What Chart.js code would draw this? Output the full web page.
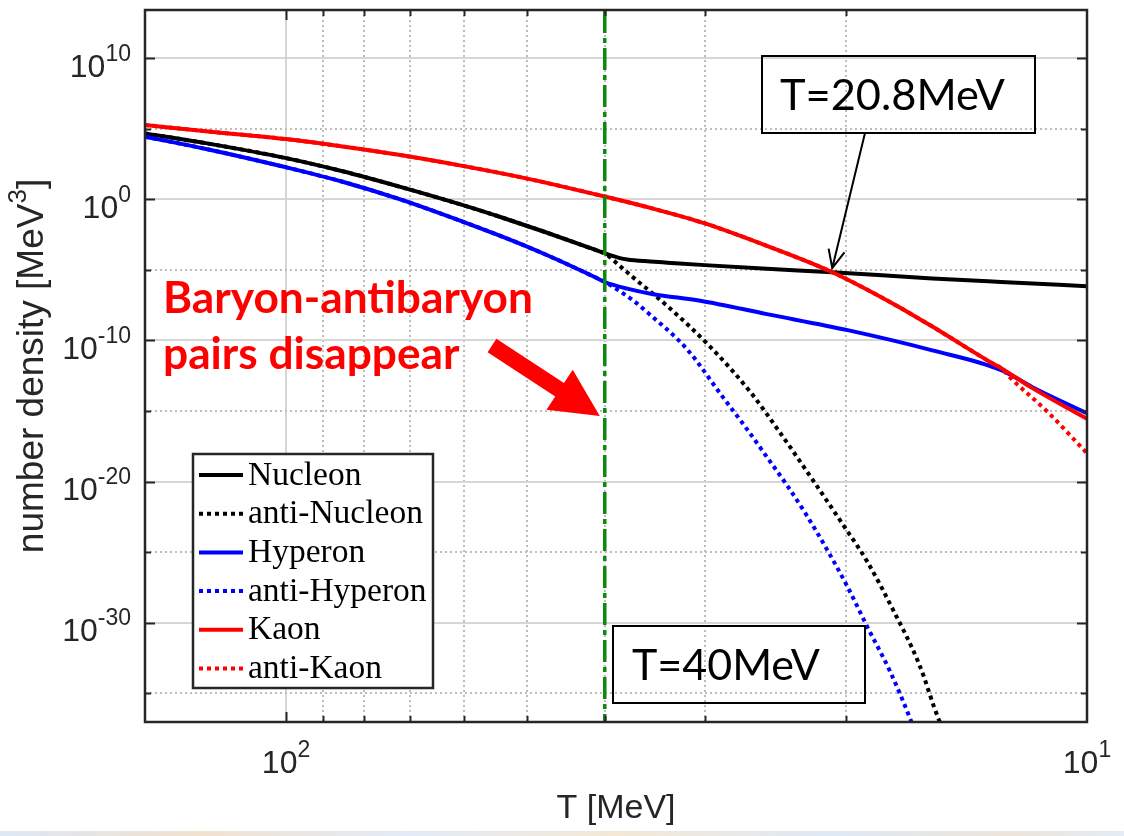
<!DOCTYPE html>
<html>
<head>
<meta charset="utf-8">
<script src="https://cdn.jsdelivr.net/npm/chart.js@4.4.1/dist/chart.umd.min.js"></script>
<style>
  html, body { margin: 0; padding: 0; background: #ffffff; }
  #wrap { position: relative; width: 1124px; height: 836px; overflow: hidden; background: #ffffff; }
  #strip { position: absolute; left: 0; right: 0; bottom: 0; height: 5px;
    background: linear-gradient(90deg, #dde7f4, #f2e2cf 18%, #e2ebf7 36%, #f4e8d5 55%, #dfe9f6 74%, #ece4d8 90%, #e4ecf6); }
  canvas { display: block; }
</style>
</head>
<body>
<div id="wrap">
  <canvas id="c" width="1124" height="836"></canvas>
  <div id="strip"></div>
</div>
<script>
// Number densities [MeV^3] against temperature T [MeV]
const nucleonT     = [150, 125, 100, 85, 72, 60, 54, 47.5, 41, 40, 38.3, 37.5, 35.1, 33.4, 30, 25.1, 20.8, 15.6, 12.8, 10];
const nucleon      = [4.8e4, 9.1e3, 8.5e2, 1.0e2, 7.8, 3.8e-1, 5.7e-2, 4.9e-3, 2.5e-4, 1.5e-4, 6.9e-5, 5.5e-5, 4.0e-5, 3.3e-5, 2.2e-5, 1.2e-5, 6.9e-6, 2.5e-6, 1.4e-6, 7.1e-7];

const antiNucleonT = [150, 125, 100, 85, 72, 60, 54, 47.5, 41, 40, 38.3, 36.9, 33.4, 29.6, 26.3, 24.2, 22.0, 20.2, 18.8, 17.5, 16.2, 15.3, 14.4];
const antiNucleon  = [4.8e4, 9.1e3, 8.5e2, 1.0e2, 7.8, 3.8e-1, 5.7e-2, 4.9e-3, 2.5e-4, 1.5e-4, 1.9e-5, 3.1e-6, 2.7e-8, 4.0e-11, 2.1e-14, 3.2e-17, 1.3e-20, 1.0e-23, 2.0e-26, 1.0e-29, 1.1e-33, 1.2e-37, 1.6e-40];

const hyperonT     = [150, 125, 100, 85, 72, 60, 54, 47.5, 41, 40, 37.5, 34.8, 30.4, 25.1, 19.9, 15.6, 12.8, 11.7, 10];
const hyperon      = [2.8e4, 3.5e3, 1.9e2, 18, 1.0, 2.5e-2, 2.6e-3, 1.3e-4, 2.8e-6, 1.4e-6, 4.7e-7, 1.9e-7, 6.6e-8, 7.4e-9, 5.4e-10, 2.0e-11, 7.9e-13, 4.9e-14, 6.9e-16];

const antiHyperonT = [150, 125, 100, 85, 72, 60, 54, 47.5, 41, 40, 36.9, 35.4, 31.6, 28.5, 26.7, 25.1, 23.7, 22.4, 21.1, 19.9, 18.8, 17.6, 16.6, 15.9];
const antiHyperon  = [2.8e4, 3.5e3, 1.9e2, 18, 1.0, 2.5e-2, 2.6e-3, 1.3e-4, 2.8e-6, 1.4e-6, 7.2e-8, 1.0e-8, 2.5e-11, 1.0e-14, 7.4e-17, 5.5e-19, 5.6e-21, 4.2e-23, 1.4e-25, 3.3e-28, 4.8e-31, 3.1e-34, 1.2e-37, 1.6e-40];

const kaonT        = [150, 125, 100, 85, 72, 60, 50, 40, 35, 30, 25.1, 20.8, 17.6, 15.6, 13.2, 12.8, 11.7, 10];
const kaon         = [1.9e5, 6.6e4, 1.9e4, 5.7e3, 1.4e3, 2.3e2, 30, 1.6, 2.4e-1, 2.0e-2, 5.1e-4, 6.9e-6, 5.2e-8, 9.7e-10, 2.9e-12, 1.1e-12, 4.2e-14, 2.8e-16];

const antiKaonT    = [150, 125, 100, 85, 72, 60, 50, 40, 35, 30, 25.1, 20.8, 17.6, 15.6, 13.2, 12.8, 12.5, 11.2, 10];
const antiKaon     = [1.9e5, 6.6e4, 1.9e4, 5.7e3, 1.4e3, 2.3e2, 30, 1.6, 2.4e-1, 2.0e-2, 5.1e-4, 6.9e-6, 5.2e-8, 9.7e-10, 2.9e-12, 1.1e-12, 2.6e-13, 8.7e-16, 1.0e-18];

// Marked temperatures [MeV]
const markerT = 40;     // pair disappearance line
const crossT  = 20.8;   // nucleon / kaon crossing
const crossN  = 6.9e-6; // density at the crossing

// Axis ranges and ticks
const xMin = 10, xMax = 150;
const yMin = 8.9e-38, yMax = 2.7e13;
const xGridT = [20, 30, 40, 50, 60, 70, 80, 90, 100];
const xLabelValues = [100, 10];
const xLabelExps = ['2', '1'];
const yTickValues = [1e-35, 1e-30, 1e-25, 1e-20, 1e-15, 1e-10, 1e-5, 1, 1e5, 1e10];
const yLabelValues = [1e10, 1, 1e-10, 1e-20, 1e-30];
const yLabelExps = ['10', '0', '-10', '-20', '-30'];

const INK = '#262626';
const SANS = '"Liberation Sans", Arial, sans-serif';
const SERIF = '"Liberation Serif", "Times New Roman", serif';
const CALI = 'Lato, "Open Sans", sans-serif';
const GREEN = '#0b8a0b';

function pts(ts, vs) { return ts.map((t, i) => ({ x: t, y: vs[i] })); }
function isMajorX(v) { return v === 100; }
function isMajorY(v) { return Math.round(Math.log10(v)) % 10 === 0; }

const datasets = [
  { label: 'Nucleon',      data: pts(nucleonT, nucleon),         borderColor: '#000000', borderDash: [],     order: 6 },
  { label: 'anti-Nucleon', data: pts(antiNucleonT, antiNucleon), borderColor: '#000000', borderDash: [4, 4], order: 5 },
  { label: 'Hyperon',      data: pts(hyperonT, hyperon),         borderColor: '#0000ff', borderDash: [],     order: 4 },
  { label: 'anti-Hyperon', data: pts(antiHyperonT, antiHyperon), borderColor: '#0000ff', borderDash: [4, 4], order: 3 },
  { label: 'Kaon',         data: pts(kaonT, kaon),               borderColor: '#ff0000', borderDash: [],     order: 2 },
  { label: 'anti-Kaon',    data: pts(antiKaonT, antiKaon),       borderColor: '#ff0000', borderDash: [4, 4], order: 1 }
].map(d => Object.assign(d, { borderWidth: 4, fill: false, cubicInterpolationMode: 'monotone', inLegend: true }));

datasets.push({
  label: 'T=' + markerT + 'MeV',
  data: [{ x: markerT, y: yMin / 10 }, { x: markerT, y: yMax * 10 }],
  borderColor: GREEN, borderWidth: 3.5, borderDash: [22, 5, 5, 5], tension: 0, fill: false, order: 0, inLegend: false
});

function drawPow(ctx, exp, x, baseY, align) {
  ctx.font = '32px ' + SANS;
  const wb = ctx.measureText('10').width;
  ctx.font = '23px ' + SANS;
  const ws = ctx.measureText(exp).width;
  const total = wb + ws;
  const left = align === 'right' ? x - total : x - total / 2;
  ctx.textAlign = 'left';
  ctx.textBaseline = 'alphabetic';
  ctx.fillStyle = INK;
  ctx.font = '32px ' + SANS;
  ctx.fillText('10', left, baseY);
  ctx.font = '23px ' + SANS;
  ctx.fillText(exp, left + wb, baseY - 16);
}

function fitSize(ctx, text, weight, family, target) {
  ctx.font = weight + ' 40px ' + family;
  return 40 * target / ctx.measureText(text).width;
}

const decorations = {
  id: 'decorations',
  afterDatasetsDraw(chart) {
    const { ctx, chartArea: a, scales: { x, y } } = chart;
    ctx.save();

    // inward tick marks on all four sides
    ctx.strokeStyle = INK;
    ctx.lineWidth = 2;
    ctx.beginPath();
    yTickValues.forEach(v => {
      const py = Math.round(y.getPixelForValue(v)) + 0.5;
      const len = isMajorY(v) ? 10 : 6;
      ctx.moveTo(a.left, py); ctx.lineTo(a.left + len, py);
      ctx.moveTo(a.right, py); ctx.lineTo(a.right - len, py);
    });
    xGridT.forEach(v => {
      const px = Math.round(x.getPixelForValue(v)) + 0.5;
      const len = isMajorX(v) ? 10 : 6;
      ctx.moveTo(px, a.bottom); ctx.lineTo(px, a.bottom - len);
      ctx.moveTo(px, a.top); ctx.lineTo(px, a.top + len);
    });
    ctx.stroke();

    // axes box
    ctx.lineWidth = 2.5;
    ctx.strokeRect(a.left, a.top, a.right - a.left, a.bottom - a.top);

    // tick labels
    yLabelValues.forEach((v, i) => drawPow(ctx, yLabelExps[i], 131, y.getPixelForValue(v) + 18.5, 'right'));
    xLabelValues.forEach((v, i) => drawPow(ctx, xLabelExps[i], x.getPixelForValue(v), 773, 'center'));

    // axis titles
    ctx.fillStyle = INK;
    ctx.font = '34px ' + SANS;
    ctx.textAlign = 'center';
    ctx.textBaseline = 'alphabetic';
    ctx.fillText('T [MeV]', (a.left + a.right) / 2, 818);

    ctx.save();
    ctx.translate(43, (a.top + a.bottom) / 2);
    ctx.rotate(-Math.PI / 2);
    const p1 = 'number density [MeV', p2 = '3', p3 = ']';
    ctx.font = '37px ' + SANS;
    const w1 = ctx.measureText(p1).width, w3 = ctx.measureText(p3).width;
    ctx.font = '26px ' + SANS;
    const w2 = ctx.measureText(p2).width;
    const sx = -(w1 + w2 + w3) / 2;
    ctx.textAlign = 'left';
    ctx.font = '37px ' + SANS;
    ctx.fillText(p1, sx, 0);
    ctx.font = '26px ' + SANS;
    ctx.fillText(p2, sx + w1, -17);
    ctx.font = '37px ' + SANS;
    ctx.fillText(p3, sx + w1 + w2, 0);
    ctx.restore();

    // legend
    const lg = { l: 193, t: 454, r: 433, b: 688 };
    ctx.fillStyle = '#ffffff';
    ctx.fillRect(lg.l, lg.t, lg.r - lg.l, lg.b - lg.t);
    ctx.strokeStyle = INK;
    ctx.lineWidth = 2.5;
    ctx.strokeRect(lg.l, lg.t, lg.r - lg.l, lg.b - lg.t);
    const entries = chart.data.datasets.filter(d => d.inLegend);
    entries.forEach((d, i) => {
      const ly = 475 + i * 38.7;
      ctx.save();
      ctx.strokeStyle = d.borderColor;
      ctx.lineWidth = d.borderWidth;
      ctx.setLineDash(d.borderDash);
      ctx.beginPath();
      ctx.moveTo(199, ly); ctx.lineTo(243, ly);
      ctx.stroke();
      ctx.restore();
      ctx.fillStyle = '#000000';
      ctx.font = '33.5px ' + SERIF;
      ctx.textAlign = 'left';
      ctx.fillText(d.label, 248, ly + 9.5);
    });

    // red note and block arrow
    const noteSize = fitSize(ctx, 'Baryon-antibaryon', 'bold', CALI, 370);
    ctx.fillStyle = '#ff0000';
    ctx.font = 'bold ' + noteSize + 'px ' + CALI;
    ctx.textAlign = 'left';
    ctx.fillText('Baryon-antibaryon', 163, 313);
    ctx.fillText('pairs disappear', 163, 369);

    const tipX = x.getPixelForValue(markerT) - 5, tipY = 416;
    const tailX = 492, tailY = 345.5;
    const dx = tipX - tailX, dy = tipY - tailY, L = Math.hypot(dx, dy);
    const ux = dx / L, uy = dy / L, nx = -uy, ny = ux;
    const sw = 8, hw = 24, hl = 48;
    const bx = tipX - ux * hl, by = tipY - uy * hl;
    ctx.beginPath();
    ctx.moveTo(tailX + nx * sw, tailY + ny * sw);
    ctx.lineTo(bx + nx * sw, by + ny * sw);
    ctx.lineTo(bx + nx * hw, by + ny * hw);
    ctx.lineTo(tipX, tipY);
    ctx.lineTo(bx - nx * hw, by - ny * hw);
    ctx.lineTo(bx - nx * sw, by - ny * sw);
    ctx.lineTo(tailX - nx * sw, tailY - ny * sw);
    ctx.closePath();
    ctx.fill();

    // boxed temperature labels
    ctx.strokeStyle = '#000000';
    ctx.lineWidth = 2;
    ctx.fillStyle = '#000000';
    const t1 = 'T=' + crossT + 'MeV';
    ctx.font = fitSize(ctx, t1, 'normal', CALI, 225) + 'px ' + CALI;
    ctx.fillText(t1, 780, 110);
    ctx.strokeRect(762, 56, 273, 77);

    const t2 = 'T=' + markerT + 'MeV';
    ctx.font = fitSize(ctx, t2, 'normal', CALI, 188) + 'px ' + CALI;
    ctx.fillText(t2, 632, 680);
    ctx.strokeRect(613, 626, 252, 77);

    // thin arrow to the crossing point
    const cx = x.getPixelForValue(crossT), cy = y.getPixelForValue(crossN) - 4;
    const sx0 = 865, sy0 = 133;
    const adx = cx - sx0, ady = cy - sy0, aL = Math.hypot(adx, ady);
    const ax = adx / aL, ay = ady / aL;
    ctx.lineWidth = 2;
    ctx.beginPath();
    ctx.moveTo(sx0, sy0); ctx.lineTo(cx, cy);
    const ang = 0.42, hlen = 20;
    const c1 = Math.cos(ang), s1 = Math.sin(ang);
    ctx.moveTo(cx - hlen * (ax * c1 - ay * s1), cy - hlen * (ay * c1 + ax * s1));
    ctx.lineTo(cx, cy);
    ctx.lineTo(cx - hlen * (ax * c1 + ay * s1), cy - hlen * (ay * c1 - ax * s1));
    ctx.stroke();

    ctx.restore();
  }
};

new Chart(document.getElementById('c'), {
  type: 'line',
  data: { datasets },
  options: {
    responsive: false,
    animation: false,
    devicePixelRatio: 1,
    layout: { padding: { left: 145, top: 10, right: 37, bottom: 114 } },
    elements: { point: { radius: 0, hoverRadius: 0 }, line: { borderCapStyle: 'butt' } },
    plugins: { legend: { display: false }, tooltip: { enabled: false } },
    events: [],
    scales: {
      x: {
        type: 'logarithmic', reverse: true, min: xMin, max: xMax,
        afterBuildTicks: s => { s.ticks = xGridT.map(v => ({ value: v })); },
        ticks: { display: false, autoSkip: false },
        grid: { drawTicks: false, lineWidth: 2,
          color: c => (c.tick && isMajorX(c.tick.value)) ? '#d6d6d6' : '#bdbdbd' },
        border: { display: false, dash: c => (c.tick && !isMajorX(c.tick.value)) ? [2, 3] : [] }
      },
      y: {
        type: 'logarithmic', min: yMin, max: yMax,
        afterBuildTicks: s => { s.ticks = yTickValues.map(v => ({ value: v })); },
        ticks: { display: false, autoSkip: false },
        grid: { drawTicks: false, lineWidth: 2,
          color: c => (c.tick && isMajorY(c.tick.value)) ? '#d6d6d6' : '#bdbdbd' },
        border: { display: false, dash: c => (c.tick && !isMajorY(c.tick.value)) ? [2, 3] : [] }
      }
    }
  },
  plugins: [decorations]
});
</script>
</body>
</html>
